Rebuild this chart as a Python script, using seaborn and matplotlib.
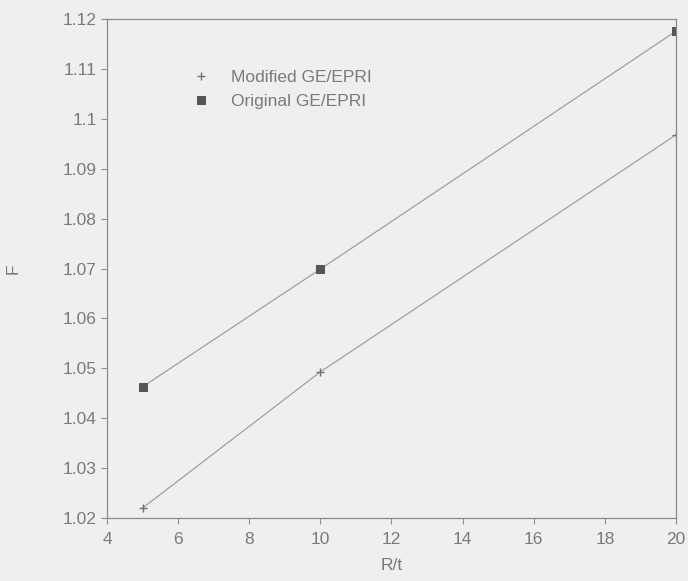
import matplotlib
matplotlib.use("Agg")
import matplotlib.pyplot as plt
import seaborn as sns
import pandas as pd

rt = [5, 10, 20]
modified = [1.022, 1.0493, 1.0968]
original = [1.0463, 1.0699, 1.1176]
xticks = [4, 6, 8, 10, 12, 14, 16, 18, 20]
yticks = [1.02, 1.03, 1.04, 1.05, 1.06, 1.07, 1.08, 1.09, 1.1, 1.11, 1.12]
ytick_labels = ["1.02", "1.03", "1.04", "1.05", "1.06", "1.07", "1.08", "1.09", "1.1", "1.11", "1.12"]

sns.set_style("ticks")
plt.rcParams['font.family'] = ['Liberation Sans', 'DejaVu Sans']
bg = "#efefed"
txt = "#7a7a7a"

fig = plt.figure(figsize=(6.88, 5.81), dpi=100, facecolor=bg)
ax = fig.add_axes([0.1555, 0.1084, 0.827, 0.8586])
ax.set_facecolor(bg)

df_m = pd.DataFrame({"R/t": rt, "F": modified})
df_o = pd.DataFrame({"R/t": rt, "F": original})

sns.lineplot(data=df_m, x="R/t", y="F", ax=ax, color="#a0a0a0", lw=0.9, marker="+",
             markersize=6, markeredgewidth=1.0, markeredgecolor="#707070",
             label="Modified GE/EPRI")
sns.lineplot(data=df_o, x="R/t", y="F", ax=ax, color="#a0a0a0", lw=0.9, marker="s",
             markersize=6, markerfacecolor="#555555", markeredgecolor="#555555",
             label="Original GE/EPRI")

ax.set_xlim(4, 20)
ax.set_ylim(1.02, 1.12)
ax.set_xticks(xticks)
ax.set_yticks(yticks)
ax.set_yticklabels(ytick_labels)
ax.tick_params(colors="#909090", labelcolor=txt, labelsize=12.5, length=4, width=0.8)
ax.tick_params(axis="x", pad=6)
for s in ax.spines.values():
    s.set_color("#8a8a8a")
    s.set_linewidth(0.9)
ax.set_xlabel("R/t", color=txt, fontsize=12.5, labelpad=8)
ax.set_ylabel("F", color=txt, fontsize=12.5, labelpad=30)

leg = ax.legend(loc="upper left", bbox_to_anchor=(0.12, 0.93), frameon=False,
                fontsize=12.5, handlelength=1.2, handletextpad=1.1, labelspacing=0.5)
for t in leg.get_texts():
    t.set_color(txt)
for h in leg.legend_handles:
    h.set_linestyle("none")

fig.savefig("out.png", dpi=100, facecolor=bg)
